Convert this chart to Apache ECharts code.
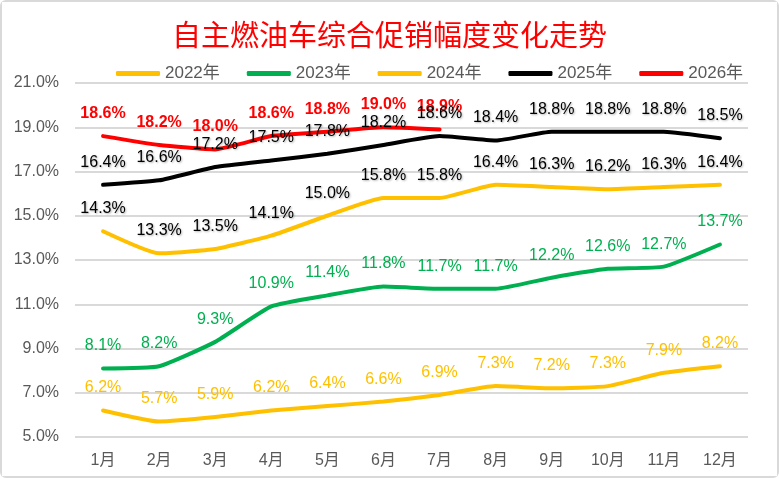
<!DOCTYPE html>
<html>
<head>
<meta charset="utf-8">
<script src="https://cdn.jsdelivr.net/npm/echarts@6/dist/echarts.min.js"></script>
<style>
  html, body { margin: 0; padding: 0; background: #fff; }
  #chart { width: 779px; height: 478px; box-sizing: border-box; border: 2px solid #d9d9d9; border-radius: 6px; }
</style>
</head>
<body>
<div id="chart"></div>
<script>
// 月份
var months = ['1月', '2月', '3月', '4月', '5月', '6月', '7月', '8月', '9月', '10月', '11月', '12月'];
var years = ['2022年', '2023年', '2024年', '2025年', '2026年'];

// 各年度促销幅度 (%)
var data2022 = [6.2, 5.7, 5.9, 6.2, 6.4, 6.6, 6.9, 7.3, 7.2, 7.3, 7.9, 8.2];
var data2023 = [8.1, 8.2, 9.3, 10.9, 11.4, 11.8, 11.7, 11.7, 12.2, 12.6, 12.7, 13.7];
var data2024 = [14.3, 13.3, 13.5, 14.1, 15.0, 15.8, 15.8, 16.4, 16.3, 16.2, 16.3, 16.4];
var data2025 = [16.4, 16.6, 17.2, 17.5, 17.8, 18.2, 18.6, 18.4, 18.8, 18.8, 18.8, 18.5];
var data2026 = [18.6, 18.2, 18.0, 18.6, 18.8, 19.0, 18.9];

var chart = echarts.init(document.getElementById('chart'));

function pct(p) {
  return p.value.toFixed(1) + '%';
}

function makeSeries(name, data, color, labelColor, bold) {
  return {
    name: name,
    type: 'line',
    data: data,
    smooth: 0.15,
    symbol: 'circle',
    symbolSize: 1,
    showSymbol: true,
    lineStyle: { width: 4, color: color, cap: 'round', join: 'round' },
    itemStyle: { color: color },
    label: {
      show: true,
      position: 'top',
      distance: 14,
      formatter: pct,
      color: labelColor,
      fontSize: 16,
      fontWeight: bold ? 'bold' : 'normal',
      fontFamily: 'Liberation Sans, Arial, sans-serif',
      textShadowColor: labelColor === '#000000' ? 'rgba(0,0,0,0.3)' : 'transparent',
      textShadowBlur: 2,
      textShadowOffsetX: 1,
      textShadowOffsetY: 1
    },
    labelLayout: { hideOverlap: false },
    emphasis: { disabled: true }
  };
}

var option = {
  backgroundColor: '#fff',
  animation: false,
  title: {
    text: '自主燃油车综合促销幅度变化走势',
    left: 'center',
    top: 13,
    textStyle: {
      color: '#ff0000',
      fontSize: 29,
      fontWeight: 'normal',
      fontFamily: 'Noto Sans CJK SC'
    }
  },
  legend: {
    data: years,
    top: 58,
    left: 109,
    itemWidth: 44,
    itemHeight: 5,
    itemGap: 27,
    icon: 'roundRect',
    textStyle: { color: '#595959', fontSize: 17, fontFamily: 'Liberation Sans, Noto Sans CJK SC' }
  },
  grid: { left: 73, right: 29, top: 81, bottom: 39, containLabel: false },
  xAxis: {
    type: 'category',
    data: months,
    boundaryGap: true,
    axisLine: { show: false },
    axisTick: { show: false },
    axisLabel: {
      color: '#595959',
      fontSize: 16,
      margin: 16,
      fontFamily: 'Liberation Sans, Noto Sans CJK SC'
    }
  },
  yAxis: {
    type: 'value',
    min: 5,
    max: 21,
    interval: 2,
    axisLine: { show: false },
    axisTick: { show: false },
    splitLine: { lineStyle: { color: '#d9d9d9', width: 2 } },
    axisLabel: {
      color: '#595959',
      fontSize: 16,
      margin: 16,
      fontFamily: 'Liberation Sans, Arial, sans-serif',
      formatter: function (v) { return v.toFixed(1) + '%'; }
    }
  },
  series: [
    makeSeries('2022年', data2022, '#FFC000', '#FFC000', false),
    makeSeries('2023年', data2023, '#00B050', '#00B050', false),
    makeSeries('2024年', data2024, '#FFC000', '#000000', false),
    makeSeries('2026年', data2026, '#FF0000', '#FF0000', true),
    makeSeries('2025年', data2025, '#000000', '#000000', false)
  ]
};

chart.setOption(option);
</script>
</body>
</html>
